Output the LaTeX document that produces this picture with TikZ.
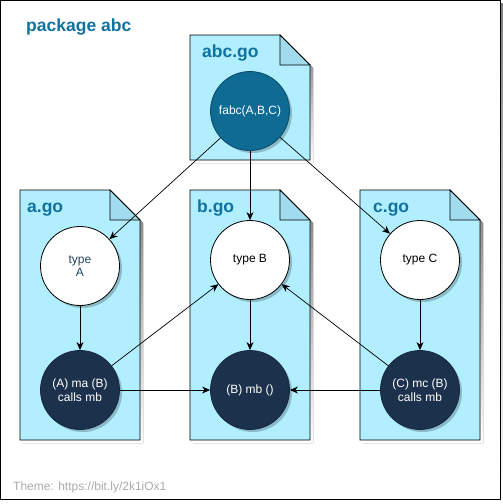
\documentclass[tikz,border=0pt]{standalone}
\usepackage{fontspec}
\setmainfont{Liberation Sans}
\usetikzlibrary{arrows.meta,shadows}
\definecolor{docfill}{HTML}{B1EEFF}
\definecolor{foldfill}{HTML}{A0DCEE}
\definecolor{ttl}{HTML}{10739E}
\definecolor{fabcfill}{HTML}{0F6A94}
\definecolor{navy}{HTML}{1B314C}
\definecolor{typea}{HTML}{23445D}
\definecolor{shade}{HTML}{B8B8B8}
\definecolor{themegray}{HTML}{ABABAB}
\tikzset{
  circ/.style={circle, minimum size=79pt, inner sep=0pt, line width=0.8pt,
    font=\fontsize{12}{14}\selectfont, align=center,
    drop shadow={shadow xshift=2.5pt, shadow yshift=-2.5pt, fill=black, opacity=0.22}},
  lightc/.style={circ, fill=white, draw=black, text=black},
  darkc/.style={circ, fill=navy, draw=navy!80!black, text=white},
  bluec/.style={circ, fill=fabcfill, draw=fabcfill!70!black, text=white},
  conn/.style={-{Stealth[length=8pt,width=7pt,inset=2.5pt]}, line width=0.7pt, draw=black},
  doctitle/.style={anchor=base west, inner sep=0pt, font=\fontsize{17.5}{20}\selectfont\bfseries, text=ttl},
  docline/.style={line width=0.8pt, draw=black}
}
\newcommand\gofile[4]{%
  \fill[shade] ({#1+3},{#2+3}) -- ({#3-30+3},{#2+3}) -- ({#3+3},{#2+30+3}) -- ({#3+3},{#4+3}) -- ({#1+3},{#4+3}) -- cycle;
  \filldraw[docline, fill=docfill] (#1,#2) -- ({#3-30},#2) -- (#3,{#2+30}) -- (#3,#4) -- (#1,#4) -- cycle;
  \filldraw[docline, fill=foldfill] ({#3-30},#2) -- ({#3-30},{#2+30}) -- (#3,{#2+30}) -- cycle;
}
\begin{document}
\begin{tikzpicture}[x=1pt,y=-1pt]
  \useasboundingbox (0,0) rectangle (503,504);
  % outer frame
  \fill[shade] (3.5,3.5) rectangle (503,503);
  \filldraw[fill=white, draw=black, line width=1pt] (0.5,0.5) rectangle (500,499.5);
  \node[doctitle] (pkg) at (26,31) {package abc};
  \node[anchor=base west, inner sep=0pt, font=\fontsize{12}{14}\selectfont, text=themegray] (theme) at (13,490) {Theme: https://bit.ly/2k1iOx1};
  % files
  \gofile{190}{35}{310}{160}
  \gofile{20}{190}{140}{440}
  \gofile{190}{190}{310}{440}
  \gofile{360}{190}{480}{440}
  \node[doctitle] (tabc) at (202,57) {abc.go};
  \node[doctitle] (ta) at (27,212) {a.go};
  \node[doctitle] (tb) at (197,212) {b.go};
  \node[doctitle] (tc) at (373,212) {c.go};
  % circles
  \node[bluec] (fabc) at (250,111) {fabc(A,B,C)};
  \node[lightc, text=typea] (typeA) at (80,266) {\raisebox{-6pt}{\shortstack{type\\A}}};
  \node[lightc] (typeB) at (250,260) {type B};
  \node[lightc] (typeC) at (420,260) {type C};
  \node[darkc] (ma) at (80,390) {(A) ma (B)\\calls mb};
  \node[darkc] (mb) at (250,390) {(B) mb ()};
  \node[darkc] (mc) at (420,390) {(C) mc (B)\\calls mb};
  % connectors
  \draw[conn] (fabc) -- (typeA);
  \draw[conn] (fabc) -- (typeB);
  \draw[conn] (fabc) -- (typeC);
  \draw[conn] (typeA) -- (ma);
  \draw[conn] (typeB) -- (mb);
  \draw[conn] (typeC) -- (mc);
  \draw[conn] (ma) -- (typeB);
  \draw[conn] (mc) -- (typeB);
  \draw[conn] (ma) -- (mb);
  \draw[conn] (mc) -- (mb);
\end{tikzpicture}
\end{document}
